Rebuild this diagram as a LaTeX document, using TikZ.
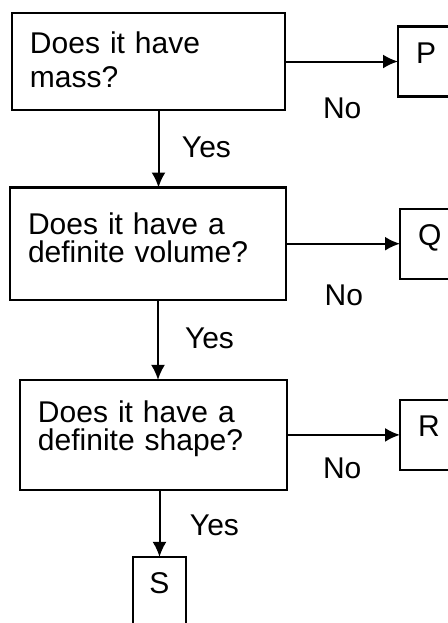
\documentclass[tikz,border=0pt]{standalone}
\usepackage{fontspec}
\setmainfont{Liberation Sans}
\usetikzlibrary{arrows.meta,positioning}

\begin{document}
\begin{tikzpicture}[node distance=0.22cm, every node/.style={font=\fontsize{15pt}{14pt}\selectfont,outer sep=0pt},
  qbox/.style={draw,line width=1.1pt,align=left,inner xsep=9pt,inner ysep=9.5pt},
  leaf/.style={draw,line width=1.1pt,align=left,text width=40pt,inner xsep=9pt,inner ysep=7.65pt,text height=10.7pt,text depth=9pt},
  flow/.style={-{Latex[length=7.5pt,width=7pt]},line width=1pt},
  lbl/.style={inner sep=0pt}]
  \useasboundingbox (0,0) rectangle (223.5pt,-311.5pt);
  \node[qbox,text width=118.5pt,text height=10.74pt,text depth=18.76pt,anchor=north west] (mass) at (6pt,-6.5pt)
    {Does it have\\[3pt]mass?};
  \node[qbox,text width=120pt,text height=14.1pt,text depth=23.1pt,below right=38.75pt and -1pt of mass.south west] (vol)
    {Does it have a\\definite volume?};
  \node[qbox,text width=115.5pt,text height=12pt,text depth=24pt,below right=40pt and 5pt of vol.south west] (shape)
    {Does it have a\\definite shape?};
  \node[leaf,right=56.5pt of mass] (p) {P};
  \node[leaf,right=57pt of vol] (q) {Q};
  \node[leaf,right=56.5pt of shape] (r) {R};
  \node[draw,line width=1.1pt,inner xsep=0pt,minimum width=26.5pt,inner ysep=7.5pt,text height=10.7pt,text depth=30pt,
    below right=33.5pt and 56.5pt of shape.south west] (s) {S};
  \foreach \x/\y in {mass/p,vol/q,shape/r}{\draw[flow] (\x.east) -- (\x.east -| \y.west);}
  \foreach \x/\y in {mass/vol,vol/shape}{\draw[flow] ([xshift=5pt]\x.south) -- ([xshift=5pt]\x.south |- \y.north);}
  \draw[flow] (shape.south -| s.north) -- (s.north);
  \node[lbl,below right=18.25pt and 19pt of mass.east] (no1) {No};
  \node[lbl,below right=20.6pt and 19.3pt of vol.east] (no2) {No};
  \node[lbl,below right=11.7pt and 18pt of shape.east] (no3) {No};
  \node[lbl,below right=13.5pt and 16.75pt of mass.south] (yes1) {Yes};
  \node[lbl,below right=14pt and 18.5pt of vol.south] (yes2) {Yes};
  \node[lbl,below right=12.5pt and 18.25pt of shape.south] (yes3) {Yes};
\end{tikzpicture}
\end{document}
